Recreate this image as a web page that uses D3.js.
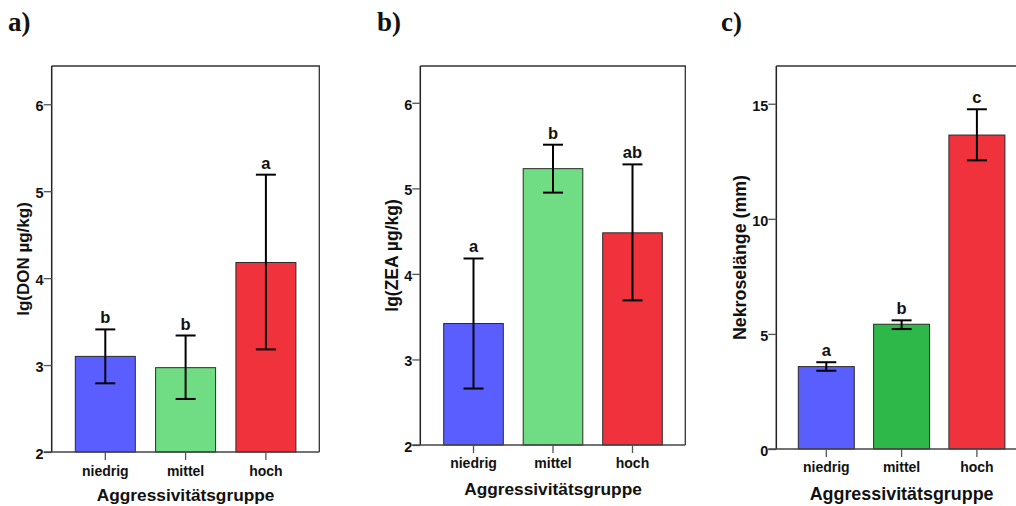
<!DOCTYPE html>
<html>
<head>
<meta charset="utf-8">
<script src="https://cdn.jsdelivr.net/npm/d3@7"></script>
<style>
  body { margin: 0; background: #fff; }
  text { font-family: "Liberation Sans", Arial, sans-serif; font-weight: bold; fill: #111; }
  .panel-label { font-family: "Liberation Serif", "Times New Roman", serif; font-size: 27px; }
</style>
</head>
<body>
<div id="chart"></div>
<script>
// Daten
const categories = ["niedrig", "mittel", "hoch"];

const donMean = [3.10, 2.97, 4.18];
const donLow = [2.79, 2.61, 3.18];
const donHigh = [3.41, 3.34, 5.19];
const donLetters = ["b", "b", "a"];

const zeaMean = [3.42, 5.23, 4.48];
const zeaLow = [2.66, 4.95, 3.69];
const zeaHigh = [4.18, 5.51, 5.28];
const zeaLetters = ["a", "b", "ab"];

const nekMean = [3.58, 5.42, 13.64];
const nekLow = [3.40, 5.21, 12.54];
const nekHigh = [3.77, 5.59, 14.76];
const nekLetters = ["a", "b", "c"];

const lgTicks = [2, 3, 4, 5, 6];
const nekTicks = [0, 5, 10, 15];

const colorsLight = ["#5a5eff", "#70dc84", "#f0323c"];
const colorsDark = ["#5a5eff", "#2eb84a", "#f0323c"];

const W = 1016, H = 506;

const svg = d3.select("#chart")
    .append("svg")
    .attr("width", W)
    .attr("height", H);

// Panels: Rahmen-Position in Pixeln, Wertebereich
const panels = [
    { label: "a)", lx: 8, left: 51.7, right: 319.3, top: 66, bottom: 452, domain: [2, 6.44],
      offset: 53.6, step: 80.3, bw: 60, mean: donMean, low: donLow, high: donHigh, letters: donLetters,
      ticks: lgTicks, colors: colorsLight, ytitle: "lg(DON µg/kg)", ytx: 23, ytSize: 17, xtSize: 17.3, catY: 476, xtY: 501 },
    { label: "b)", lx: 377, left: 420.3, right: 685.3, top: 66, bottom: 445, domain: [2, 6.43],
      offset: 53.2, step: 79.5, bw: 59.6, mean: zeaMean, low: zeaLow, high: zeaHigh, letters: zeaLetters,
      ticks: lgTicks, colors: colorsLight, ytitle: "lg(ZEA µg/kg)", ytx: 392, ytSize: 17.5, xtSize: 17.3, catY: 468, xtY: 495 },
    { label: "c)", lx: 721, left: 776.3, right: 1030, top: 66, bottom: 449, domain: [0, 16.64],
      offset: 50, step: 75.3, bw: 56, mean: nekMean, low: nekLow, high: nekHigh, letters: nekLetters,
      ticks: nekTicks, colors: colorsDark, ytitle: "Nekroselänge (mm)", ytx: 740, ytSize: 17.8, xtSize: 17.9, catY: 472, xtY: 500 }
];

panels.forEach(p => {
    const g = svg.append("g");

    const y = d3.scaleLinear().domain(p.domain).range([p.bottom, p.top]);
    const r0 = p.left + p.offset - p.step / 2;
    const pi = 1 - p.bw / p.step;
    const x = d3.scaleBand()
        .domain(categories)
        .range([r0, r0 + 3 * p.step])
        .paddingInner(pi)
        .paddingOuter(pi / 2);

    // Rahmen oben / rechts
    g.append("path")
        .attr("d", `M${p.left},${p.top}H${p.right}V${p.bottom}`)
        .attr("fill", "none")
        .attr("stroke", "#333")
        .attr("stroke-width", 1.3);

    // Balken
    g.selectAll("rect.bar")
        .data(categories)
        .join("rect")
        .attr("class", "bar")
        .attr("x", d => x(d))
        .attr("width", x.bandwidth())
        .attr("y", (d, i) => y(p.mean[i]))
        .attr("height", (d, i) => p.bottom - y(p.mean[i]))
        .attr("fill", (d, i) => p.colors[i])
        .attr("stroke", "#2a2a2a")
        .attr("stroke-width", 1);

    // Fehlerbalken
    const cx = d => x(d) + x.bandwidth() / 2;
    const eb = g.selectAll("g.err")
        .data(categories)
        .join("g")
        .attr("class", "err")
        .attr("stroke", "#000")
        .attr("stroke-width", 2);
    eb.append("line")
        .attr("x1", cx).attr("x2", cx)
        .attr("y1", (d, i) => y(p.low[i]))
        .attr("y2", (d, i) => y(p.high[i]));
    eb.append("line")
        .attr("x1", d => cx(d) - 10).attr("x2", d => cx(d) + 10)
        .attr("y1", (d, i) => y(p.high[i]))
        .attr("y2", (d, i) => y(p.high[i]));
    eb.append("line")
        .attr("x1", d => cx(d) - 10).attr("x2", d => cx(d) + 10)
        .attr("y1", (d, i) => y(p.low[i]))
        .attr("y2", (d, i) => y(p.low[i]));

    // Signifikanz-Buchstaben
    g.selectAll("text.sig")
        .data(categories)
        .join("text")
        .attr("class", "sig")
        .attr("x", cx)
        .attr("y", (d, i) => y(p.high[i]) - 6)
        .attr("text-anchor", "middle")
        .style("font-size", "16.5px")
        .text((d, i) => p.letters[i]);

    // Y-Achse
    const yAxis = g.append("g")
        .attr("transform", `translate(${p.left},0)`)
        .call(d3.axisLeft(y).tickValues(p.ticks).tickSize(8).tickSizeOuter(0).tickFormat(d3.format("d")));
    yAxis.select(".domain").attr("d", `M0,${p.top}V${p.bottom}`).attr("stroke", "#222").attr("stroke-width", 1.5);
    yAxis.selectAll(".tick line").attr("stroke", "#555").attr("stroke-width", 1.3);
    yAxis.selectAll(".tick text").attr("x", -8).attr("dy", "0.45em")
        .style("font-size", "14.5px").style("font-family", "Liberation Sans, Arial, sans-serif").style("font-weight", "bold").attr("fill", "#111");

    // X-Achse
    const xAxis = g.append("g")
        .attr("transform", `translate(0,${p.bottom})`)
        .call(d3.axisBottom(x).tickSize(8).tickSizeOuter(0));
    xAxis.select(".domain").attr("d", `M${p.left - 8},0H${p.right}`).attr("stroke", "#444").attr("stroke-width", 1.6);
    xAxis.selectAll(".tick line").attr("stroke", "#555").attr("stroke-width", 1.3);
    xAxis.selectAll(".tick text").remove();
    g.selectAll("text.cat")
        .data(categories)
        .join("text")
        .attr("class", "cat")
        .attr("x", cx)
        .attr("y", p.catY)
        .attr("text-anchor", "middle")
        .style("font-size", "14px")
        .text(d => d);

    // Achsentitel
    g.append("text")
        .attr("x", cx(categories[1]))
        .attr("y", p.xtY)
        .attr("text-anchor", "middle")
        .style("font-size", p.xtSize + "px")
        .text("Aggressivitätsgruppe");

    g.append("text")
        .attr("transform", `translate(${p.ytx},${(p.top + p.bottom) / 2}) rotate(-90)`)
        .attr("text-anchor", "middle")
        .attr("dy", "0.35em")
        .style("font-size", p.ytSize + "px")
        .text(p.ytitle);

    // Panel-Beschriftung
    svg.append("text")
        .attr("class", "panel-label")
        .attr("x", p.lx)
        .attr("y", 31)
        .text(p.label);
});
</script>
</body>
</html>
